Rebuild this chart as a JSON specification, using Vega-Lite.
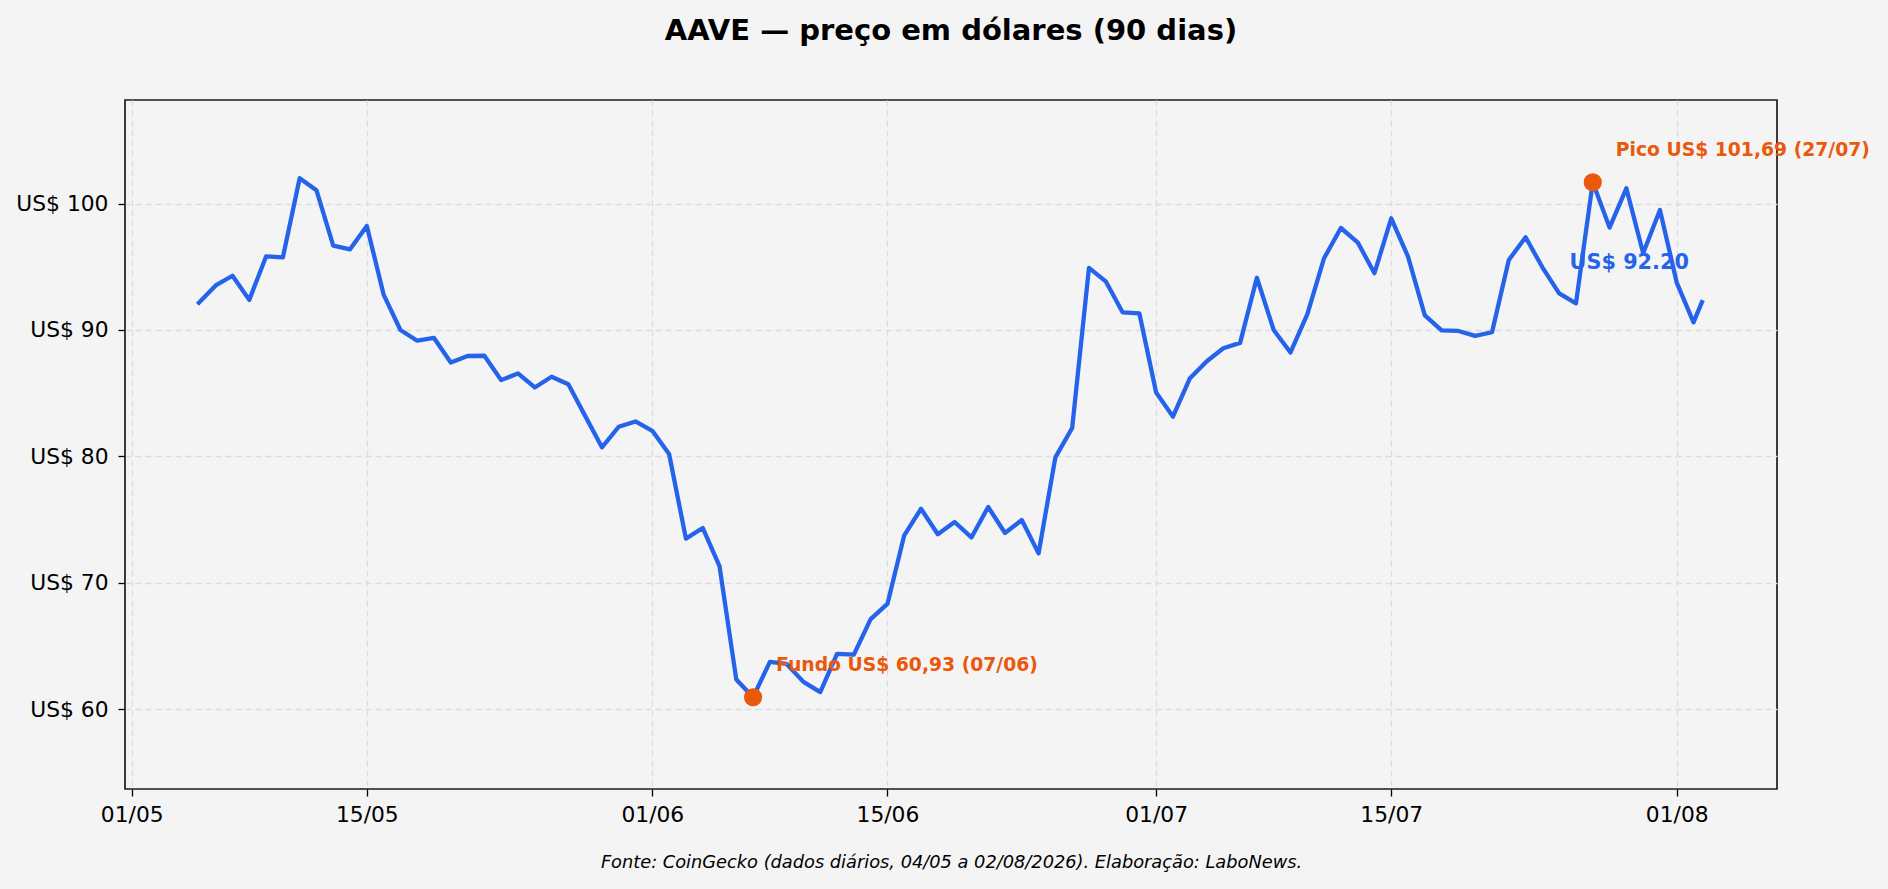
{
  "$schema": "https://vega.github.io/schema/vega-lite/v6.json",
  "width": 1652,
  "height": 689,
  "autosize": {"type": "none"},
  "padding": {"left": 125, "top": 100, "right": 111, "bottom": 100},
  "background": "#f4f4f4",
  "title": {
    "text": "AAVE — preço em dólares (90 dias)",
    "anchor": "middle",
    "frame": "group",
    "font": "DejaVu Sans",
    "fontSize": 29,
    "fontWeight": "bold",
    "color": "#000000",
    "baseline": "alphabetic",
    "offset": 31
  },
  "config": {
    "font": "DejaVu Sans",
    "view": {"stroke": "#1a1a1a", "strokeWidth": 1.7}
  },
  "datasets": {
    "precos": [
      {"date": "2026-05-05T00:00", "price": 92.15},
      {"date": "2026-05-06T00:00", "price": 93.52},
      {"date": "2026-05-07T00:00", "price": 94.29},
      {"date": "2026-05-08T00:00", "price": 92.38},
      {"date": "2026-05-09T00:00", "price": 95.82},
      {"date": "2026-05-10T00:00", "price": 95.74},
      {"date": "2026-05-11T00:00", "price": 102.01},
      {"date": "2026-05-12T00:00", "price": 101.06},
      {"date": "2026-05-13T00:00", "price": 96.67},
      {"date": "2026-05-14T00:00", "price": 96.38},
      {"date": "2026-05-15T00:00", "price": 98.23},
      {"date": "2026-05-16T00:00", "price": 92.8},
      {"date": "2026-05-17T00:00", "price": 90.0},
      {"date": "2026-05-18T00:00", "price": 89.15},
      {"date": "2026-05-19T00:00", "price": 89.37},
      {"date": "2026-05-20T00:00", "price": 87.43},
      {"date": "2026-05-21T00:00", "price": 87.94},
      {"date": "2026-05-22T00:00", "price": 87.96},
      {"date": "2026-05-23T00:00", "price": 86.03},
      {"date": "2026-05-24T00:00", "price": 86.56},
      {"date": "2026-05-25T00:00", "price": 85.45},
      {"date": "2026-05-26T00:00", "price": 86.3},
      {"date": "2026-05-27T00:00", "price": 85.7},
      {"date": "2026-05-28T00:00", "price": 83.2},
      {"date": "2026-05-29T00:00", "price": 80.71},
      {"date": "2026-05-30T00:00", "price": 82.34},
      {"date": "2026-05-31T00:00", "price": 82.76},
      {"date": "2026-06-01T00:00", "price": 82.02},
      {"date": "2026-06-02T00:00", "price": 80.18},
      {"date": "2026-06-03T00:00", "price": 73.49},
      {"date": "2026-06-04T00:00", "price": 74.33},
      {"date": "2026-06-05T00:00", "price": 71.31},
      {"date": "2026-06-06T00:00", "price": 62.34},
      {"date": "2026-06-07T00:00", "price": 60.93},
      {"date": "2026-06-08T00:00", "price": 63.73},
      {"date": "2026-06-09T00:00", "price": 63.57},
      {"date": "2026-06-10T00:00", "price": 62.15},
      {"date": "2026-06-11T00:00", "price": 61.34},
      {"date": "2026-06-12T00:00", "price": 64.36},
      {"date": "2026-06-13T00:00", "price": 64.3},
      {"date": "2026-06-14T00:00", "price": 67.11},
      {"date": "2026-06-15T00:00", "price": 68.32},
      {"date": "2026-06-16T00:00", "price": 73.75},
      {"date": "2026-06-17T00:00", "price": 75.85},
      {"date": "2026-06-18T00:00", "price": 73.83},
      {"date": "2026-06-19T00:00", "price": 74.8},
      {"date": "2026-06-20T00:00", "price": 73.58},
      {"date": "2026-06-21T00:00", "price": 75.99},
      {"date": "2026-06-22T00:00", "price": 73.93},
      {"date": "2026-06-23T00:00", "price": 74.96},
      {"date": "2026-06-24T00:00", "price": 72.32},
      {"date": "2026-06-25T00:00", "price": 79.92},
      {"date": "2026-06-26T00:00", "price": 82.24},
      {"date": "2026-06-27T00:00", "price": 94.91},
      {"date": "2026-06-28T00:00", "price": 93.85},
      {"date": "2026-06-29T00:00", "price": 91.4},
      {"date": "2026-06-30T00:00", "price": 91.32},
      {"date": "2026-07-01T00:00", "price": 85.05},
      {"date": "2026-07-02T00:00", "price": 83.14},
      {"date": "2026-07-03T00:00", "price": 86.15},
      {"date": "2026-07-04T00:00", "price": 87.5},
      {"date": "2026-07-05T00:00", "price": 88.55},
      {"date": "2026-07-06T00:00", "price": 88.98},
      {"date": "2026-07-07T00:00", "price": 94.13},
      {"date": "2026-07-08T00:00", "price": 90.0},
      {"date": "2026-07-09T00:00", "price": 88.22},
      {"date": "2026-07-10T00:00", "price": 91.24},
      {"date": "2026-07-11T00:00", "price": 95.68},
      {"date": "2026-07-12T00:00", "price": 98.07},
      {"date": "2026-07-13T00:00", "price": 96.94},
      {"date": "2026-07-14T00:00", "price": 94.49},
      {"date": "2026-07-15T00:00", "price": 98.84},
      {"date": "2026-07-16T00:00", "price": 95.8},
      {"date": "2026-07-17T00:00", "price": 91.16},
      {"date": "2026-07-18T00:00", "price": 89.97},
      {"date": "2026-07-19T00:00", "price": 89.92},
      {"date": "2026-07-20T00:00", "price": 89.53},
      {"date": "2026-07-21T00:00", "price": 89.82},
      {"date": "2026-07-22T00:00", "price": 95.54},
      {"date": "2026-07-23T00:00", "price": 97.34},
      {"date": "2026-07-24T00:00", "price": 94.96},
      {"date": "2026-07-25T00:00", "price": 92.9},
      {"date": "2026-07-26T00:00", "price": 92.11},
      {"date": "2026-07-27T00:00", "price": 101.69},
      {"date": "2026-07-28T00:00", "price": 98.1},
      {"date": "2026-07-29T00:00", "price": 101.21},
      {"date": "2026-07-30T00:00", "price": 96.07},
      {"date": "2026-07-31T00:00", "price": 99.5},
      {"date": "2026-08-01T00:00", "price": 93.75},
      {"date": "2026-08-02T00:00", "price": 90.6},
      {"date": "2026-08-02T12:00", "price": 92.2}
    ],
    "extremos": [
      {"date": "2026-07-27T00:00", "price": 101.69, "label": "Pico US$ 101,69 (27/07)"},
      {"date": "2026-06-07T00:00", "price": 60.93, "label": "Fundo US$ 60,93 (07/06)"}
    ],
    "ultimo": [
      {"date": "2026-08-02T12:00", "price": 92.2, "label": "US$ 92.20"}
    ]
  },
  "encoding": {
    "x": {
      "field": "date",
      "type": "temporal",
      "scale": {
        "domain": [
          {"year": 2026, "month": 4, "date": 30, "hours": 14, "minutes": 24},
          {"year": 2026, "month": 8, "date": 6, "hours": 23, "minutes": 17}
        ]
      },
      "axis": {
        "values": [
          {"year": 2026, "month": 5, "date": 1},
          {"year": 2026, "month": 5, "date": 15},
          {"year": 2026, "month": 6, "date": 1},
          {"year": 2026, "month": 6, "date": 15},
          {"year": 2026, "month": 7, "date": 1},
          {"year": 2026, "month": 7, "date": 15},
          {"year": 2026, "month": 8, "date": 1}
        ],
        "format": "%d/%m",
        "labelFontSize": 21.8,
        "labelColor": "#000000",
        "labelPadding": 8,
        "domain": false,
        "tickSize": 7,
        "tickColor": "#000000",
        "tickWidth": 1.3,
        "grid": true,
        "gridDash": [6, 4],
        "gridColor": "#dcdcdc",
        "gridWidth": 1.3,
        "title": "Fonte: CoinGecko (dados diários, 04/05 a 02/08/2026). Elaboração: LaboNews.",
        "titleFontSize": 17.8,
        "titleFontStyle": "italic",
        "titleFontWeight": "normal",
        "titleColor": "#000000",
        "titleBaseline": "alphabetic",
        "titlePadding": 42
      }
    },
    "y": {
      "field": "price",
      "type": "quantitative",
      "scale": {"domain": [53.67, 108.2], "nice": false, "zero": false},
      "axis": {
        "values": [60, 70, 80, 90, 100],
        "labelExpr": "'US$ ' + datum.value",
        "labelFontSize": 21.8,
        "labelColor": "#000000",
        "labelPadding": 10,
        "domain": false,
        "tickSize": 7,
        "tickColor": "#000000",
        "tickWidth": 1.3,
        "grid": true,
        "gridDash": [6, 4],
        "gridColor": "#dcdcdc",
        "gridWidth": 1.3,
        "title": null
      }
    }
  },
  "layer": [
    {
      "data": {"name": "precos"},
      "mark": {"type": "line", "color": "#2563eb", "strokeWidth": 4.3, "strokeJoin": "round", "strokeCap": "square"}
    },
    {
      "data": {"name": "extremos"},
      "mark": {"type": "point", "shape": "circle", "filled": true, "opacity": 1, "size": 330, "color": "#ea580c"}
    },
    {
      "data": {"name": "extremos"},
      "mark": {"type": "text", "align": "left", "baseline": "alphabetic", "dx": 23, "dy": -26, "fontSize": 18.75, "fontWeight": "bold", "color": "#ea580c"},
      "encoding": {"text": {"field": "label", "type": "nominal"}}
    },
    {
      "data": {"name": "ultimo"},
      "mark": {"type": "text", "align": "right", "baseline": "alphabetic", "dx": -13, "dy": -33, "fontSize": 20.8, "fontWeight": "bold", "color": "#2563eb"},
      "encoding": {"text": {"field": "label", "type": "nominal"}}
    }
  ]
}
